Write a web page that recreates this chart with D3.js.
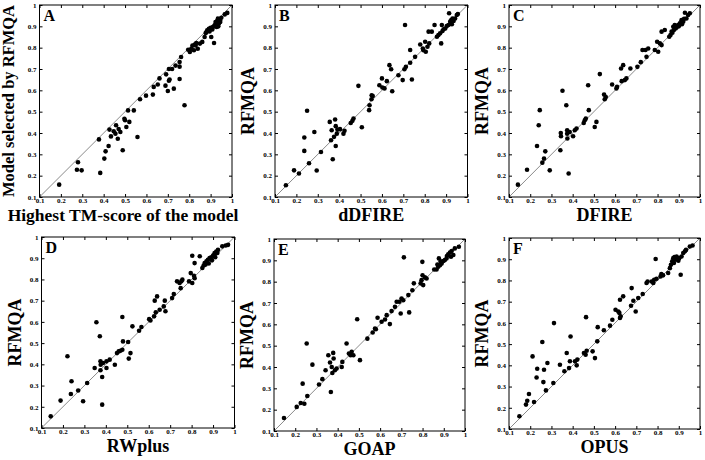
<!DOCTYPE html>
<html>
<head>
<meta charset="utf-8">
<script src="https://cdn.jsdelivr.net/npm/d3@7/dist/d3.min.js"></script>
<style>
  html, body { margin: 0; padding: 0; background: #fff; }
  svg { display: block; }
</style>
</head>
<body>
<svg id="chart" width="705" height="460"></svg>
<script>
// ---------- DATA ----------
const panelLetters = ["A", "B", "C", "D", "E", "F"];
const xTitles = ["Highest TM-score of the model", "dDFIRE", "DFIRE", "RWplus", "GOAP", "OPUS"];
const yTitles = ["Model selected by RFMQA", "RFMQA", "RFMQA", "RFMQA", "RFMQA", "RFMQA"];
const tickValues = [0.1, 0.2, 0.3, 0.4, 0.5, 0.6, 0.7, 0.8, 0.9, 1];
const tickLabels = ["0.1", "0.2", "0.3", "0.4", "0.5", "0.6", "0.7", "0.8", "0.9", "1"];

const pointsA = [
  [0.192,0.158],[0.28,0.263],[0.275,0.228],[0.297,0.225],[0.384,0.213],[0.378,0.370],[0.403,0.28],
  [0.409,0.314],[0.423,0.339],[0.427,0.416],[0.434,0.384],[0.447,0.408],[0.455,0.397],[0.458,0.436],
  [0.466,0.373],[0.47,0.419],[0.478,0.405],[0.489,0.319],[0.497,0.467],[0.50,0.46],[0.506,0.428],
  [0.514,0.506],[0.52,0.452],[0.541,0.506],[0.558,0.381],[0.570,0.558],[0.598,0.575],[0.63,0.58],
  [0.634,0.616],[0.653,0.627],[0.661,0.656],[0.689,0.622],[0.692,0.675],[0.70,0.597],[0.705,0.645],
  [0.708,0.651],[0.705,0.70],[0.72,0.70],[0.728,0.608],[0.736,0.716],[0.755,0.733],[0.755,0.711],
  [0.755,0.653],[0.762,0.756],[0.778,0.530],[0.795,0.79],[0.803,0.78],[0.811,0.795],[0.822,0.788],
  [0.83,0.81],[0.84,0.795],[0.85,0.819],[0.861,0.827],[0.872,0.85],[0.877,0.869],[0.884,0.881],
  [0.892,0.889],[0.903,0.85],[0.911,0.897],[0.916,0.822],[0.919,0.905],[0.923,0.920],[0.928,0.897],
  [0.934,0.936],[0.939,0.913],[0.944,0.928],[0.95,0.94],[0.966,0.956],[0.978,0.963],
  [0.815,0.81],[0.826,0.815],[0.833,0.822],[0.88,0.872],[0.895,0.876],[0.9,0.893],[0.908,0.885],
  [0.925,0.91],[0.93,0.925],[0.94,0.93],[0.945,0.92],[0.936,0.9]
];
const pointsB = [
  [0.151,0.155],[0.189,0.225],[0.212,0.21],[0.237,0.316],[0.237,0.379],[0.25,0.504],[0.259,0.258],
  [0.284,0.405],[0.295,0.224],[0.315,0.311],[0.356,0.452],[0.365,0.413],[0.362,0.366],[0.37,0.277],
  [0.376,0.382],[0.381,0.463],[0.384,0.432],[0.384,0.339],[0.389,0.397],[0.392,0.416],[0.404,0.418],
  [0.42,0.397],[0.425,0.41],[0.454,0.447],[0.462,0.457],[0.467,0.468],[0.49,0.621],[0.506,0.427],
  [0.54,0.507],[0.542,0.53],[0.551,0.558],[0.552,0.577],[0.557,0.573],[0.588,0.624],[0.6,0.656],
  [0.602,0.613],[0.612,0.609],[0.623,0.643],[0.635,0.718],[0.643,0.699],[0.648,0.596],[0.677,0.671],
  [0.697,0.648],[0.705,0.699],[0.712,0.71],[0.708,0.906],[0.732,0.789],[0.732,0.729],[0.74,0.651],
  [0.755,0.757],[0.779,0.815],[0.791,0.796],[0.794,0.788],[0.802,0.828],[0.805,0.781],[0.813,0.804],
  [0.821,0.82],[0.818,0.875],[0.833,0.875],[0.846,0.906],[0.857,0.851],[0.864,0.859],[0.872,0.867],
  [0.877,0.82],[0.88,0.906],[0.883,0.878],[0.888,0.886],[0.896,0.89],[0.903,0.901],[0.911,0.906],
  [0.914,0.961],[0.919,0.922],[0.924,0.929],[0.927,0.91],[0.93,0.937],[0.935,0.925],[0.942,0.937],
  [0.95,0.953],[0.955,0.958]
];
const pointsC = [
  [0.142,0.158],[0.185,0.228],[0.232,0.339],[0.24,0.436],[0.245,0.507],[0.257,0.261],[0.265,0.28],
  [0.271,0.314],[0.292,0.225],[0.342,0.319],[0.344,0.4],[0.345,0.385],[0.352,0.598],[0.37,0.53],
  [0.374,0.413],[0.375,0.374],[0.374,0.397],[0.381,0.21],[0.386,0.405],[0.402,0.385],[0.41,0.413],
  [0.418,0.421],[0.452,0.447],[0.457,0.46],[0.462,0.468],[0.473,0.624],[0.476,0.507],[0.504,0.428],
  [0.512,0.452],[0.528,0.676],[0.548,0.58],[0.551,0.558],[0.556,0.569],[0.586,0.627],[0.606,0.609],
  [0.609,0.616],[0.628,0.702],[0.631,0.643],[0.638,0.718],[0.646,0.648],[0.653,0.656],[0.672,0.702],
  [0.705,0.71],[0.721,0.732],[0.729,0.789],[0.743,0.789],[0.748,0.757],[0.756,0.796],[0.787,0.789],
  [0.798,0.828],[0.803,0.781],[0.811,0.82],[0.819,0.875],[0.819,0.812],[0.834,0.883],[0.855,0.851],
  [0.861,0.859],[0.866,0.875],[0.874,0.898],[0.877,0.883],[0.881,0.906],[0.889,0.895],[0.897,0.906],
  [0.905,0.914],[0.913,0.929],[0.921,0.922],[0.929,0.964],[0.936,0.937],[0.944,0.953],[0.952,0.961],
  [0.87,0.87],[0.885,0.89],[0.9,0.9],[0.915,0.91],[0.925,0.935]
];
const pointsD = [
  [0.143,0.155],[0.189,0.229],[0.221,0.438],[0.237,0.26],[0.24,0.32],[0.271,0.277],[0.294,0.226],
  [0.313,0.312],[0.348,0.383],[0.356,0.598],[0.372,0.532],[0.375,0.414],[0.375,0.372],[0.376,0.398],
  [0.383,0.34],[0.383,0.21],[0.387,0.406],[0.403,0.383],[0.403,0.414],[0.418,0.422],[0.442,0.398],
  [0.452,0.453],[0.46,0.461],[0.468,0.464],[0.477,0.469],[0.477,0.623],[0.48,0.508],[0.504,0.505],
  [0.507,0.427],[0.515,0.453],[0.524,0.579],[0.555,0.558],[0.566,0.576],[0.602,0.613],[0.608,0.607],
  [0.625,0.626],[0.628,0.7],[0.633,0.645],[0.639,0.72],[0.651,0.657],[0.67,0.673],[0.675,0.7],
  [0.678,0.65],[0.709,0.712],[0.717,0.731],[0.732,0.791],[0.744,0.783],[0.749,0.759],[0.752,0.791],
  [0.757,0.799],[0.788,0.791],[0.796,0.83],[0.803,0.783],[0.803,0.912],[0.811,0.817],[0.814,0.806],
  [0.814,0.877],[0.838,0.909],[0.85,0.854],[0.856,0.866],[0.861,0.877],[0.869,0.885],[0.876,0.893],
  [0.884,0.901],[0.892,0.904],[0.9,0.913],[0.907,0.924],[0.915,0.932],[0.923,0.94],[0.943,0.956],
  [0.959,0.96],[0.97,0.963],[0.865,0.87],[0.88,0.875],[0.895,0.89],[0.91,0.905],[0.92,0.925]
];
const pointsE = [
  [0.147,0.161],[0.207,0.213],[0.226,0.231],[0.235,0.322],[0.243,0.228],[0.254,0.51],[0.257,0.264],
  [0.281,0.411],[0.312,0.318],[0.328,0.343],[0.343,0.385],[0.356,0.455],[0.364,0.421],[0.368,0.283],
  [0.372,0.4],[0.375,0.372],[0.379,0.466],[0.381,0.44],[0.387,0.385],[0.395,0.393],[0.419,0.4],
  [0.422,0.424],[0.442,0.51],[0.453,0.463],[0.461,0.455],[0.466,0.471],[0.474,0.455],[0.492,0.624],
  [0.505,0.432],[0.54,0.533],[0.565,0.562],[0.576,0.58],[0.58,0.577],[0.588,0.631],[0.607,0.612],
  [0.623,0.623],[0.631,0.643],[0.646,0.601],[0.654,0.662],[0.67,0.682],[0.678,0.706],[0.69,0.706],
  [0.697,0.651],[0.701,0.721],[0.709,0.713],[0.712,0.914],[0.733,0.737],[0.737,0.656],[0.752,0.76],
  [0.759,0.792],[0.791,0.792],[0.795,0.807],[0.799,0.893],[0.8,0.83],[0.803,0.784],[0.811,0.82],
  [0.819,0.815],[0.855,0.857],[0.866,0.857],[0.874,0.87],[0.877,0.909],[0.882,0.877],[0.89,0.885],
  [0.898,0.897],[0.905,0.901],[0.913,0.909],[0.921,0.928],[0.929,0.937],[0.934,0.917],[0.937,0.944],
  [0.945,0.925],[0.952,0.956],[0.971,0.964],[0.87,0.88],[0.885,0.895],[0.915,0.92]
];
const pointsF = [
  [0.149,0.16],[0.18,0.215],[0.186,0.233],[0.194,0.265],[0.211,0.442],[0.218,0.227],[0.23,0.343],
  [0.233,0.384],[0.257,0.51],[0.262,0.321],[0.265,0.379],[0.274,0.282],[0.281,0.411],[0.309,0.317],
  [0.312,0.599],[0.34,0.403],[0.361,0.372],[0.372,0.458],[0.383,0.387],[0.387,0.419],[0.39,0.536],
  [0.411,0.419],[0.419,0.4],[0.422,0.427],[0.453,0.458],[0.461,0.45],[0.463,0.627],[0.466,0.469],
  [0.494,0.466],[0.505,0.434],[0.516,0.513],[0.518,0.58],[0.547,0.565],[0.576,0.587],[0.587,0.615],
  [0.602,0.662],[0.615,0.654],[0.62,0.647],[0.623,0.623],[0.623,0.709],[0.626,0.631],[0.638,0.725],
  [0.675,0.681],[0.678,0.764],[0.686,0.704],[0.697,0.654],[0.709,0.717],[0.73,0.736],[0.748,0.788],
  [0.753,0.795],[0.772,0.795],[0.78,0.788],[0.784,0.803],[0.791,0.901],[0.795,0.808],[0.814,0.819],
  [0.818,0.83],[0.826,0.824],[0.85,0.835],[0.858,0.858],[0.863,0.874],[0.869,0.89],[0.874,0.905],
  [0.877,0.882],[0.882,0.898],[0.89,0.913],[0.898,0.893],[0.902,0.905],[0.909,0.827],[0.913,0.913],
  [0.921,0.929],[0.929,0.937],[0.934,0.944],[0.952,0.96],[0.965,0.965],[0.88,0.91],[0.895,0.9]
];
const allPoints = [pointsA, pointsB, pointsC, pointsD, pointsE, pointsF];

// ---------- LAYOUT ----------
const layout = [
  {left: 39.5, top: 5,   w: 192.5, h: 192, xtx: 123, yty: -25.5, ytSize: 16.5, xtSize: 17.5},
  {left: 275,  top: 5,   w: 192.5, h: 192, xtx: null, yty: -21, ytSize: 18, xtSize: 18},
  {left: 509,  top: 5,   w: 191,   h: 192, xtx: null, yty: -21, ytSize: 18, xtSize: 18},
  {left: 41.5, top: 237, w: 193,   h: 191, xtx: null, yty: -21, ytSize: 18, xtSize: 18},
  {left: 274,  top: 239, w: 191,   h: 192, xtx: null, yty: -21, ytSize: 18, xtSize: 18},
  {left: 509,  top: 238, w: 191,   h: 191, xtx: null, yty: -21, ytSize: 18, xtSize: 18}
];

const FONT = "'Liberation Serif', 'Times New Roman', serif";
const svg = d3.select("#chart");
svg.append("rect").attr("width", 705).attr("height", 460).attr("fill", "#fff");

const fmt = d => tickLabels[tickValues.indexOf(d)];

allPoints.forEach((pts, i) => {
  const L = layout[i];
  const g = svg.append("g").attr("transform", `translate(${L.left},${L.top})`);
  const x = d3.scaleLinear().domain([0.1, 1]).range([0, L.w]);
  const y = d3.scaleLinear().domain([0.1, 1]).range([L.h, 0]);

  // diagonal
  g.append("line")
    .attr("x1", x(0.1)).attr("y1", y(0.1))
    .attr("x2", x(1)).attr("y2", y(1))
    .attr("stroke", "#8a8a8a").attr("stroke-width", 1);

  const styleAxis = (sel) => {
    sel.select(".domain").remove();
    sel.selectAll(".tick line").attr("stroke", "#000").attr("stroke-width", 1);
    sel.selectAll(".tick text")
      .attr("font-family", FONT).attr("font-weight", "bold")
      .attr("font-size", 7).attr("fill", "#000");
  };

  g.append("g").attr("transform", `translate(0,${L.h})`)
    .call(d3.axisBottom(x).tickValues(tickValues).tickFormat(fmt).tickSizeInner(-3).tickSizeOuter(0).tickPadding(1.5))
    .call(styleAxis);
  g.append("g")
    .call(d3.axisLeft(y).tickValues(tickValues).tickFormat(fmt).tickSizeInner(-3).tickSizeOuter(0).tickPadding(3))
    .call(styleAxis);
  g.append("g")
    .call(d3.axisTop(x).tickValues(tickValues).tickFormat("").tickSizeInner(-3).tickSizeOuter(0))
    .call(styleAxis);
  g.append("g").attr("transform", `translate(${L.w},0)`)
    .call(d3.axisRight(y).tickValues(tickValues).tickFormat("").tickSizeInner(-3).tickSizeOuter(0))
    .call(styleAxis);

  // frame
  g.append("rect").attr("x", 0).attr("y", 0).attr("width", L.w).attr("height", L.h)
    .attr("fill", "none").attr("stroke", "#000").attr("stroke-width", 1);

  // points
  g.selectAll("circle.pt").data(pts).join("circle")
    .attr("class", "pt")
    .attr("cx", d => x(d[0])).attr("cy", d => y(d[1]))
    .attr("r", 2.3).attr("fill", "#000");

  // panel letter
  g.append("text").text(panelLetters[i])
    .attr("x", 4).attr("y", 15.5)
    .attr("font-family", FONT).attr("font-weight", "bold").attr("font-size", 16).attr("fill", "#000");

  // x title
  g.append("text").text(xTitles[i])
    .attr("x", L.xtx === null ? L.w / 2 : L.xtx - L.left)
    .attr("y", L.h + 24)
    .attr("text-anchor", "middle")
    .attr("font-family", FONT).attr("font-weight", "bold").attr("font-size", L.xtSize).attr("fill", "#000");

  // y title
  g.append("text").text(yTitles[i])
    .attr("transform", `translate(${L.yty},${L.h / 2}) rotate(-90)`)
    .attr("text-anchor", "middle")
    .attr("font-family", FONT).attr("font-weight", "bold").attr("font-size", L.ytSize).attr("fill", "#000");
});
</script>
</body>
</html>
